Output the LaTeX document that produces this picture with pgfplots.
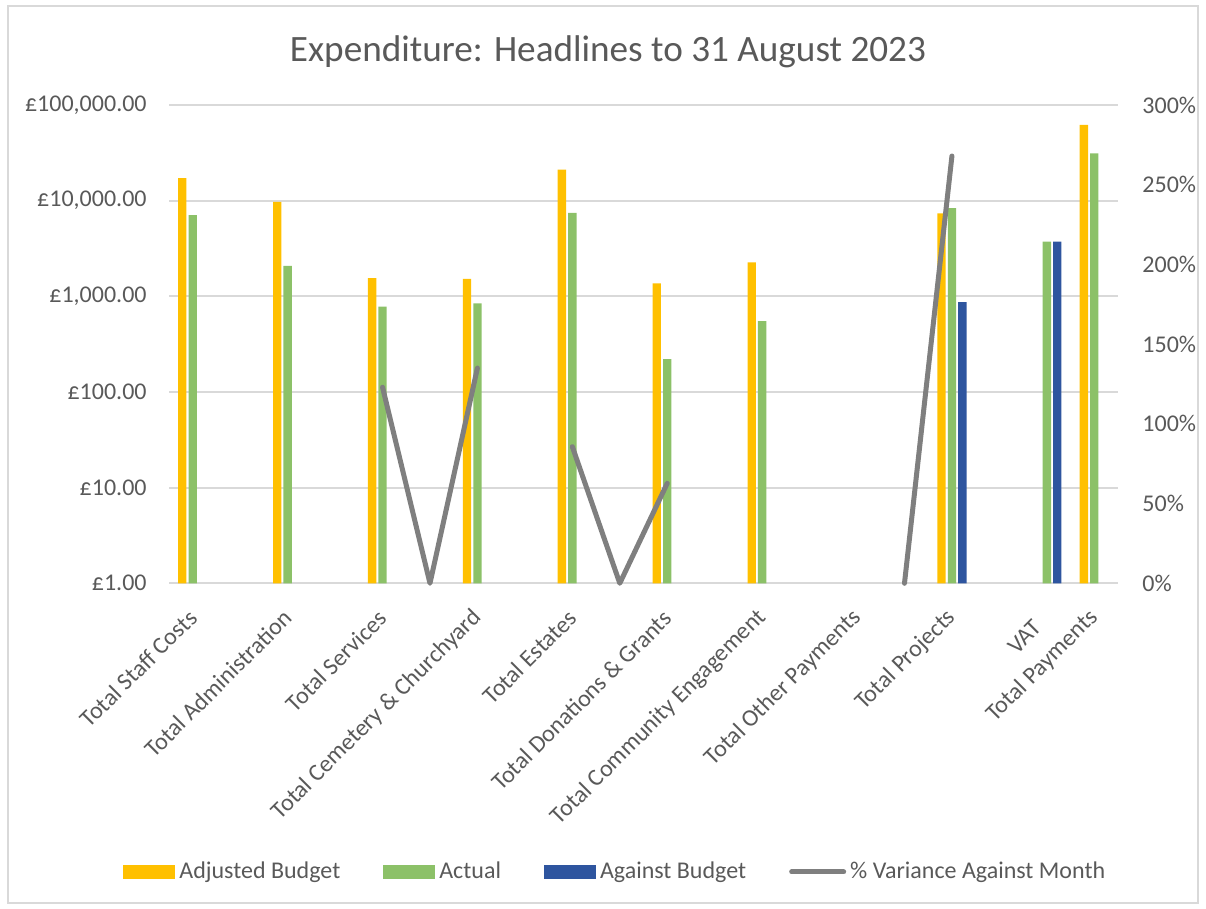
\documentclass[border=0pt]{standalone}
\usepackage{fontspec}
\setmainfont{Carlito}
\usepackage{pgfplots}
\pgfplotsset{compat=1.18}
\definecolor{cOrange}{HTML}{FFC000}
\definecolor{cGreen}{HTML}{8CC168}
\definecolor{cBlue}{HTML}{2E559F}
\definecolor{cLine}{HTML}{7F7F7F}
\definecolor{cText}{HTML}{595959}
\definecolor{cGrid}{HTML}{D9D9D9}
\begin{document}
\begin{tikzpicture}
\path[use as bounding box] (0,0) rectangle (603pt,454.5pt);
\draw[cGrid, line width=1pt] (4pt,3pt) rectangle (599pt,451.5pt);
\node[anchor=base, font=\fontsize{18.6}{22}\selectfont, text=cText] at (304pt,423.5pt) {Expenditure: Headlines to 31 August 2023};
\begin{axis}[
  at={(84.5pt,162.85pt)}, anchor=south west,
  width=474.5pt, height=239.15pt, scale only axis,
  xmin=-0.25, xmax=9.75,
  ymode=log, ymin=1, ymax=100000,
  ybar, bar width=0.088,
  axis line style={draw=none},
  major tick length=0pt, minor tick length=0pt,
  tick style={draw=none}, minor tick style={draw=none},
  ymajorgrids, major grid style={cGrid, line width=1pt},
  ytick={1,10,100,1000,10000,100000},
  yticklabels={£1.00,£10.00,£100.00,{£1,000.00},{£10,000.00},{£100,000.00}},
  xtick={0,1,2,3,4,5,6,7,8,9,9.5},
  xticklabels={Total Staff Costs,Total Administration,Total Services,{Total Cemetery \& Churchyard},Total Estates,{Total Donations \& Grants},Total Community Engagement,Total Other Payments,Total Projects,{VAT\kern7pt},Total Payments},
  tick label style={font=\fontsize{12}{14}\selectfont, text=cText},
  yticklabel style={anchor=east, inner sep=0pt, xshift=-11pt},
  xticklabel style={xshift=0.25pt, yshift=-15.25pt, rotate=45, anchor=east, inner sep=0pt},
  legend style={at={(-0.0485,-0.6036)}, anchor=west, draw=none, fill=none, inner sep=0pt,
    font=\fontsize{12}{14}\selectfont, text=cText,
    /tikz/every even column/.append style={column sep=19.5pt}},
  legend columns=4, legend cell align=left,
]
\addplot[fill=cOrange, draw=none, bar shift=-0.11,
  legend image code/.code={\fill[cOrange] (0pt,-3.5pt) rectangle (26pt,3.5pt);}]
  coordinates {(0,17150) (1,9700) (2,1545) (3,1518) (4,21100) (5,1369) (6,2270) (8,7385) (9.5,61850)};
\addlegendentry{Adjusted Budget}
\addplot[fill=cGreen, draw=none, bar shift=0,
  legend image code/.code={\fill[cGreen] (0pt,-3.5pt) rectangle (26pt,3.5pt);}]
  coordinates {(0,7040) (1,2077) (2,780) (3,846) (4,7435) (5,220) (6,552) (8,8335) (9,3725) (9.5,31300)};
\addlegendentry{Actual}
\addplot[fill=cBlue, draw=none, bar shift=0.11,
  legend image code/.code={\fill[cBlue] (0pt,-3.5pt) rectangle (26pt,3.5pt);}]
  coordinates {(8,867) (9,3725)};
\addlegendentry{Against Budget}
\addlegendimage{legend image code/.code={\draw[cLine, line width=2.5pt, line cap=round] (1pt,0pt) -- (27pt,0pt);}}
\addlegendentry{\% Variance Against Month}
\end{axis}
\begin{axis}[
  at={(84.5pt,162.85pt)}, anchor=south west,
  width=474.5pt, height=239.15pt, scale only axis,
  xmin=-0.25, xmax=9.75,
  ymin=0, ymax=300,
  axis y line*=right, axis x line=none,
  axis line style={draw=none},
  major tick length=0pt, minor tick length=0pt,
  tick style={draw=none},
  ytick={0,50,100,150,200,250,300},
  yticklabels={0\%,50\%,100\%,150\%,200\%,250\%,300\%},
  tick label style={font=\fontsize{12}{14}\selectfont, text=cText},
  yticklabel style={anchor=west, inner sep=0pt, xshift=12pt},
  clip=false,
]
\addplot[cLine, line width=2.5pt, line cap=round, line join=round, unbounded coords=jump]
  coordinates {(2,123) (2.5,0) (3,135) (3.5,nan) (4,85.7) (4.5,0) (5,62.7) (6,nan) (7.5,0) (8,268)};
\end{axis}
\end{tikzpicture}
\end{document}
